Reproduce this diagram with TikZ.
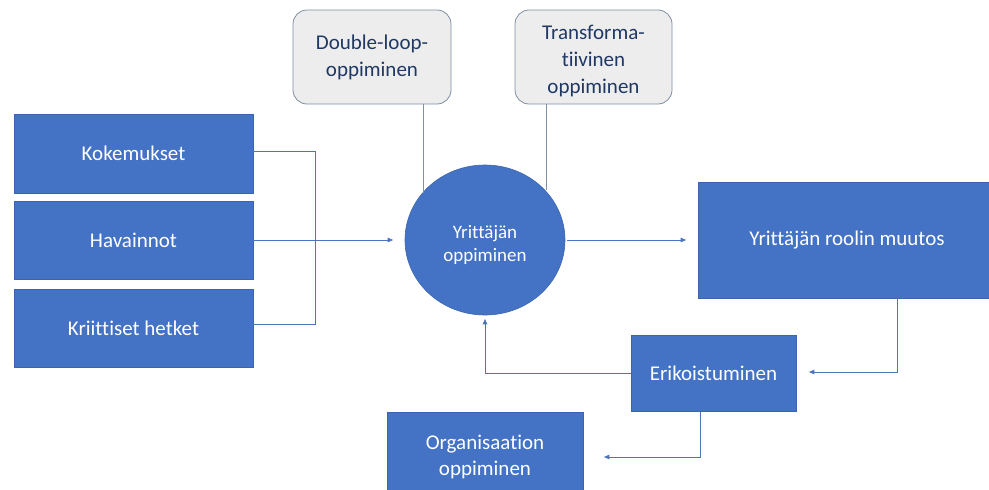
\documentclass[tikz,border=0pt]{standalone}
\usepackage{fontspec}
\setmainfont{Carlito}[Ligatures=NoCommon]
\usetikzlibrary{arrows.meta,shapes.geometric}
\definecolor{boxblue}{HTML}{4472C4}
\definecolor{boxedge}{HTML}{3A64B0}
\definecolor{linkblue}{HTML}{4A74C0}
\definecolor{greyfill}{HTML}{EDEDED}
\definecolor{greyedge}{HTML}{7F8FA6}
\definecolor{navytext}{HTML}{1F3864}
% strut that lowers a multi-line text block inside its node
\newcommand{\lowerby}[1]{\rule{0pt}{#1}}
\begin{document}
\begin{tikzpicture}[x=1pt,y=-1pt,
  bluebox/.style={rectangle,fill=boxblue,draw=boxedge,line width=0.6pt,
    text=white,align=center,inner sep=0pt,
    font=\fontsize{21}{26}\selectfont},
  greybox/.style={rectangle,rounded corners=14pt,fill=greyfill,draw=greyedge,
    line width=0.8pt,text=navytext,align=center,inner sep=0pt,
    font=\fontsize{21}{27}\selectfont},
  hub/.style={ellipse,fill=boxblue,draw=boxedge,line width=0.6pt,text=white,
    align=center,inner sep=0pt,font=\fontsize{19}{23}\selectfont},
  link/.style={draw=linkblue,line width=0.9pt},
  arrow/.style={link,-{Latex[length=6pt,width=5pt]}},
  plain/.style={draw=greyedge,line width=0.9pt}]
\useasboundingbox (0,0) rectangle (989,490);
\clip (0,0) rectangle (989,490);

% input boxes on the left
\node[bluebox,minimum width=239pt,minimum height=79pt] (kok) at (133.5,153.5) {Kokemukset};
\node[bluebox,minimum width=239pt,minimum height=78pt] (hav) at (133.5,240) {Havainnot};
\node[bluebox,minimum width=239pt,minimum height=78pt] (kri) at (133.5,328) {Kriittiset hetket};

% learning-type boxes on top
\node[greybox,minimum width=158pt,minimum height=94pt] (dl) at (372,57) {Double-loop-\\oppiminen};
\node[greybox,minimum width=157pt,minimum height=94pt] (tr) at (593.5,57) {\lowerby{22pt}Transforma-\\tiivinen\\oppiminen};

% central hub
\node[hub,minimum width=160pt,minimum height=150pt] (circ) at (485,240) {\lowerby{24pt}Yrittäjän\\oppiminen};

% outcome boxes
\node[bluebox,minimum width=298pt,minimum height=116pt] (rol) at (847,240) {Yrittäjän roolin muutos};
\node[bluebox,minimum width=165pt,minimum height=76pt] (eri) at (713.5,373) {Erikoistuminen};
\node[bluebox,minimum width=196pt,minimum height=86pt] (org) at (485,455) {\lowerby{18pt}Organisaation\\oppiminen};

% junction of the three inputs
\coordinate (j) at (315,240);
\draw[link] ([yshift=2.5pt]kok.east) -| (j);
\draw[link] ([yshift=4pt]kri.east) -| (j);
\draw[arrow,shorten >=11pt] (hav.east) -- (circ.west);

% feet of the top connectors on the hub outline
\coordinate (dlfoot) at (423,193);
\coordinate (trfoot) at (546,190);
\draw[plain] ([xshift=51pt]dl.south) -- (dlfoot);
\draw[plain] ([xshift=-47.5pt]tr.south) -- (trfoot);

% hub to role change
\draw[arrow,shorten <=2pt,shorten >=11pt] (circ.east) -- (rol.west);

% role change to specialisation
\coordinate (rc) at (897,372);
\draw[arrow,shorten >=12pt] ([xshift=50pt]rol.south) -- (rc) -- (rc -| eri.east);

% specialisation back to the hub
\draw[arrow,shorten >=3pt] (eri.west) -| (circ.south);

% specialisation to organisational learning
\coordinate (oc) at (700,457);
\draw[arrow,shorten >=20pt] ([xshift=-13.5pt]eri.south) -- (oc) -- (oc -| org.east);
\end{tikzpicture}
\end{document}
